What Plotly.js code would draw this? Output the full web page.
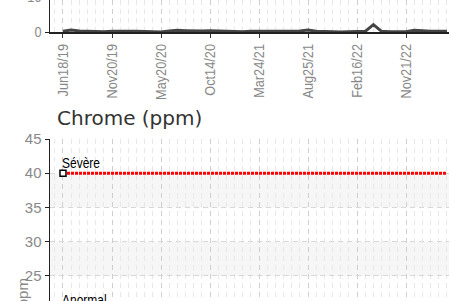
<!DOCTYPE html>
<html><head><meta charset="utf-8">
<script src="https://cdn.plot.ly/plotly-3.0.1.min.js"></script>
<style>
html,body{margin:0;padding:0;overflow:hidden;width:449px;height:301px;background:#fff;}
#wrap{position:absolute;left:0;top:-150px;width:480px;height:620px;}
</style></head><body><div id="wrap"></div>
<script>
// ---- data ----
const tickLabels = ['Jun18/19','Nov20/19','May20/20','Oct14/20','Mar24/21','Aug25/21','Feb16/22','Nov21/22'];
const tickSamples = [0, 6, 12, 18, 24, 30, 36, 42];
const topValues = [0.2, 0.6, 0.3, 0.2, 0.1, 0.1, 0.2, 0.1, 0.2, 0.2, 0.1, 0.1,
                   0.0, 0.3, 0.5, 0.4, 0.3, 0.3, 0.4, 0.3, 0.2, 0.2, 0.1, 0.2,
                   0.2, 0.0, 0.0, 0.1, 0.2, 0.3, 0.6, 0.2, 0.1, 0.1, 0.0, 0.1,
                   0.1, 0.2, 2.1, 0.2, 0.1, 0.1, 0.1, 0.5, 0.3, 0.2, 0.2, 0.2];
const chromeTitle = 'Chrome (ppm)';
const chromeUnit = 'ppm';
const limitNames = ['Sévère', 'Anormal'];
const limitValues = [40, 20];
const limitColors = ['#ff0000', '#ffa500'];
const topRange = [0, 40];
const chromeRange = [0, 45];

// ---- chart ----
const narrow = "'Liberation Sans', Arial, sans-serif";
const samples = topValues.map((_, i) => i);
const xr = [-1.59, 48.6];
const botTop = 0.55495;

const traces = [{
  x: samples, y: topValues, xaxis: 'x', yaxis: 'y', mode: 'lines',
  line: {color: '#444', width: 3}, hoverinfo: 'skip'
}];
limitValues.forEach((v, i) => {
  traces.push({x: samples, y: samples.map(() => v), xaxis: 'x2', yaxis: 'y2', mode: 'lines',
    line: {color: limitColors[i], width: 3, dash: '3px,1px'}});
  traces.push({x: [samples[0]], y: [v], xaxis: 'x2', yaxis: 'y2', mode: 'markers',
    marker: {symbol: 'square', size: 6, color: '#fff', line: {color: '#000', width: 1.5}}});
});

const shapes = [];
function bands(axis, range, step) {
  for (let k = range[0] + step; k < range[1]; k += 2 * step) {
    shapes.push({type: 'rect', xref: axis.replace('y', 'x') + ' domain', yref: axis,
      x0: 0, x1: 1, y0: k, y1: Math.min(k + step, range[1]), fillcolor: '#f6f6f6',
      line: {width: 0}, layer: 'below'});
  }
}
bands('y', topRange, 10);
bands('y2', chromeRange, 5);

const xcommon = {
  range: xr, tickmode: 'array', tickvals: tickSamples, ticktext: tickLabels, tickangle: -90,
  showgrid: true, gridcolor: '#cfcfcf', griddash: '5px,4px', zeroline: false,
  ticks: 'outside', ticklen: 4, tickcolor: '#333',
  tickfont: {family: narrow, size: 15, color: '#888'},
  minor: {tick0: 0, dtick: 1, showgrid: true, gridcolor: '#e8e8e8', griddash: '5px,4px', ticks: ''},
  fixedrange: true
};
const ycommon = {
  showline: true, linecolor: '#222', linewidth: 1.5, ticks: 'outside', ticklen: 4, tickcolor: '#222',
  showgrid: true, gridcolor: '#d8d8d8', griddash: '5px,4px', zeroline: false,
  tickfont: {family: narrow, size: 15, color: '#888'}, fixedrange: true
};

const layout = {
  width: 480, height: 620, showlegend: false,
  margin: {l: 50, r: 20, t: 42, b: 23},
  paper_bgcolor: '#fff', plot_bgcolor: '#fff',
  xaxis: Object.assign({}, xcommon, {domain: [0, 1], anchor: 'y', showline: true, linecolor: '#222', linewidth: 2}),
  yaxis: Object.assign({}, ycommon, {domain: [0.7477, 1], range: topRange, dtick: 10}),
  xaxis2: Object.assign({}, xcommon, {domain: [0, 1], anchor: 'y2', showline: true, linecolor: '#222'}),
  yaxis2: Object.assign({}, ycommon, {domain: [0, botTop], range: chromeRange, dtick: 5}),
  shapes: shapes,
  annotations: [{
    text: chromeTitle, xref: 'paper', x: 0, xanchor: 'left', xshift: 5,
    yref: 'paper', y: botTop, yanchor: 'bottom', yshift: 7, showarrow: false,
    font: {family: 'DejaVu Sans', size: 20, color: '#333'}
  }, {
    text: chromeUnit, xref: 'paper', x: -0.07, xanchor: 'center',
    yref: 'paper', y: botTop / 2, yanchor: 'middle', textangle: -90, showarrow: false,
    font: {family: narrow, size: 15, color: '#888'}
  }].concat(limitNames.map((n, i) => ({
    text: n, xref: 'x2', x: samples[0], yref: 'y2', y: limitValues[i], xanchor: 'left', yanchor: 'bottom',
    xshift: -3, yshift: 0, showarrow: false, font: {family: narrow, size: 15, color: '#000'}
  })))
};

function squeeze(nodes, s, where) {
  nodes.forEach(t => {
    const b = t.getBBox();
    let ax;
    const mode = where || t.getAttribute('text-anchor');
    if (mode === 'end') ax = b.x + b.width;
    else if (mode === 'start') ax = b.x;
    else ax = b.x + b.width / 2;
    const tr = t.getAttribute('transform') || '';
    t.setAttribute('transform', tr + ` translate(${ax},0) scale(${s},1) translate(${-ax},0)`);
  });
}

Plotly.newPlot('wrap', traces, layout, {displayModeBar: false, staticPlot: true}).then(gd => {
  squeeze(gd.querySelectorAll('.xtick text, .ytick text'), 0.85);
  const ann = Array.from(gd.querySelectorAll('.annotation-text-g text'));
  ann.forEach(t => {
    if (limitNames.includes(t.textContent)) squeeze([t], 0.8, 'start');
    if (t.textContent === chromeUnit) {
      // place the unit label just left of the tick labels
      const r = t.getBoundingClientRect();
      const dx = 22 - (r.left + r.width / 2);
      const g = t.closest('.annotation');
      if (g) g.setAttribute('transform', `translate(${dx},0) ` + (g.getAttribute('transform') || ''));
    }
  });
});
</script></body></html>
